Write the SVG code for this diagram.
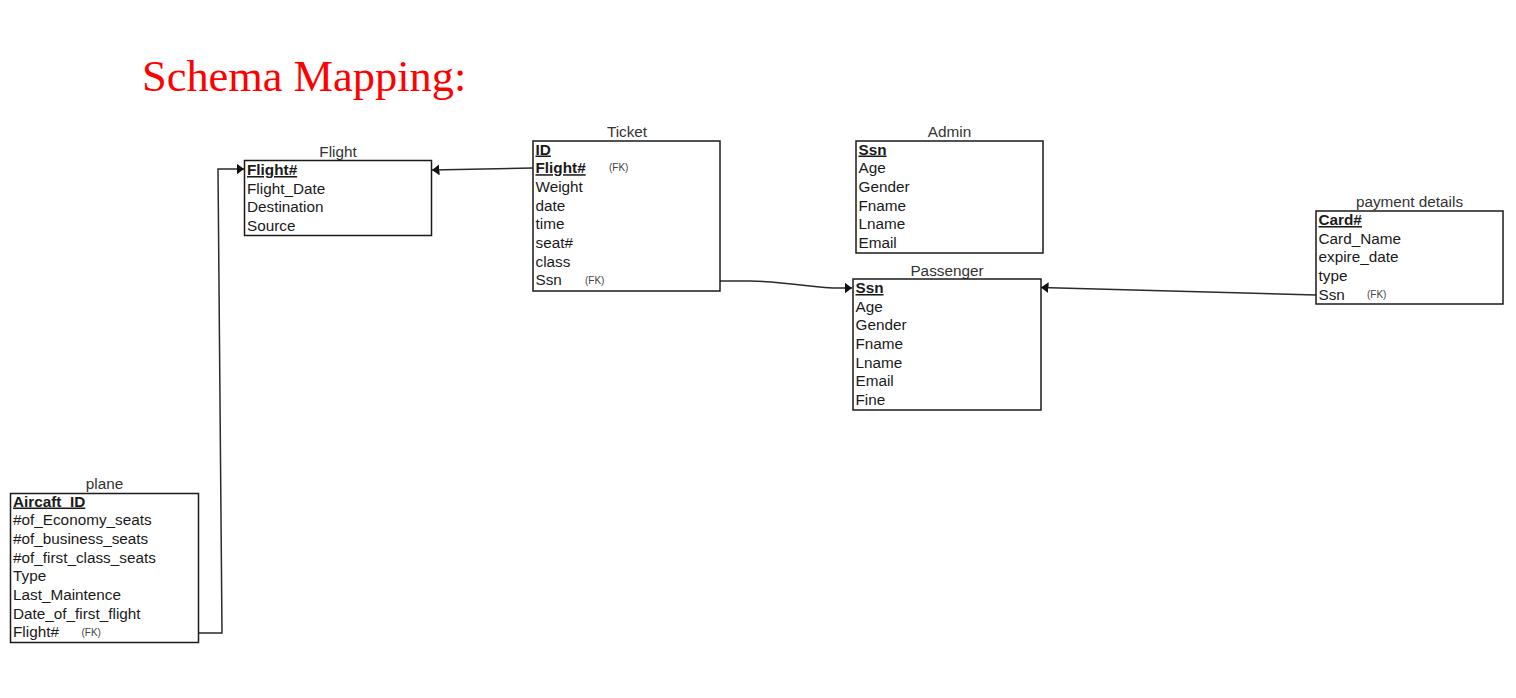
<svg xmlns="http://www.w3.org/2000/svg" width="1516" height="698" viewBox="0 0 1516 698">
<style>
.box{fill:#fff;stroke:#1a1a1a;stroke-width:1.5}
.row{font-family:"Liberation Sans",Arial,sans-serif;font-size:15.3px;fill:#1a1a1a}
.key{font-weight:bold;text-decoration:underline}
.ttl{font-family:"Liberation Sans",Arial,sans-serif;font-size:15.3px;fill:#333;text-anchor:middle}
.fk{font-family:"Liberation Sans",Arial,sans-serif;font-size:10px;fill:#444}
.conn{fill:none;stroke:#2a2a2a;stroke-width:1.5}
</style>
<defs>
<marker id="arr" markerUnits="userSpaceOnUse" markerWidth="9" markerHeight="13" refX="7.5" refY="5.5" orient="auto">
<path d="M0,0 L7.5,5.5 L0,11 z" fill="#111"/>
</marker>
</defs>
<rect width="1516" height="698" fill="#fff"/>
<text x="142" y="91" font-family="'Liberation Serif','Times New Roman',serif" font-size="44.4" fill="#ff0000">Schema Mapping:</text>

<g id="connectors">
<path class="conn" d="M533,168 L432,170" marker-end="url(#arr)"/>
<path class="conn" d="M198,633 L222,633 L218,169 L244,169" marker-end="url(#arr)"/>
<path class="conn" d="M720,281 L750,281 C790,282 815,288 840,288 L852,288" marker-end="url(#arr)"/>
<path class="conn" d="M1316,295 L1041,287.5" marker-end="url(#arr)"/>
</g>

<g id="flight">
<text class="ttl" x="338" y="156.5">Flight</text>
<rect class="box" x="244.5" y="160.5" width="187" height="75"/>
<text class="row key" x="247" y="175">Flight#</text>
<text class="row" x="247" y="193.7">Flight_Date</text>
<text class="row" x="247" y="212.3">Destination</text>
<text class="row" x="247" y="231">Source</text>
</g>

<g id="ticket">
<text class="ttl" x="627" y="137.3">Ticket</text>
<rect class="box" x="533" y="141" width="187" height="150"/>
<text class="row key" x="535.5" y="154.5">ID</text>
<text class="row key" x="535.5" y="173.2">Flight#</text>
<text class="fk" x="609" y="171">(FK)</text>
<text class="row" x="535.5" y="191.8">Weight</text>
<text class="row" x="535.5" y="210.5">date</text>
<text class="row" x="535.5" y="229.2">time</text>
<text class="row" x="535.5" y="247.8">seat#</text>
<text class="row" x="535.5" y="266.5">class</text>
<text class="row" x="535.5" y="285.2">Ssn</text>
<text class="fk" x="585" y="283.5">(FK)</text>
</g>

<g id="admin">
<text class="ttl" x="949.5" y="137.3">Admin</text>
<rect class="box" x="856" y="141" width="187" height="112"/>
<text class="row key" x="858.5" y="154.5">Ssn</text>
<text class="row" x="858.5" y="173.2">Age</text>
<text class="row" x="858.5" y="191.8">Gender</text>
<text class="row" x="858.5" y="210.5">Fname</text>
<text class="row" x="858.5" y="229.2">Lname</text>
<text class="row" x="858.5" y="247.8">Email</text>
</g>

<g id="passenger">
<text class="ttl" x="947" y="275.5">Passenger</text>
<rect class="box" x="853" y="279" width="188" height="131"/>
<text class="row key" x="855.5" y="293">Ssn</text>
<text class="row" x="855.5" y="311.7">Age</text>
<text class="row" x="855.5" y="330.3">Gender</text>
<text class="row" x="855.5" y="349">Fname</text>
<text class="row" x="855.5" y="367.7">Lname</text>
<text class="row" x="855.5" y="386.3">Email</text>
<text class="row" x="855.5" y="405">Fine</text>
</g>

<g id="payment">
<text class="ttl" x="1409.5" y="207.3">payment details</text>
<rect class="box" x="1316" y="211" width="187" height="93"/>
<text class="row key" x="1318.5" y="225">Card#</text>
<text class="row" x="1318.5" y="243.7">Card_Name</text>
<text class="row" x="1318.5" y="262.3">expire_date</text>
<text class="row" x="1318.5" y="281">type</text>
<text class="row" x="1318.5" y="299.7">Ssn</text>
<text class="fk" x="1367" y="298">(FK)</text>
</g>

<g id="plane">
<text class="ttl" x="104.5" y="489">plane</text>
<rect class="box" x="10.5" y="493.5" width="188" height="149"/>
<text class="row key" x="13" y="506.5">Aircaft_ID</text>
<text class="row" x="13" y="525.2">#of_Economy_seats</text>
<text class="row" x="13" y="543.8">#of_business_seats</text>
<text class="row" x="13" y="562.5">#of_first_class_seats</text>
<text class="row" x="13" y="581.2">Type</text>
<text class="row" x="13" y="599.8">Last_Maintence</text>
<text class="row" x="13" y="618.5">Date_of_first_flight</text>
<text class="row" x="13" y="637.2">Flight#</text>
<text class="fk" x="81.5" y="635.5">(FK)</text>
</g>
</svg>
